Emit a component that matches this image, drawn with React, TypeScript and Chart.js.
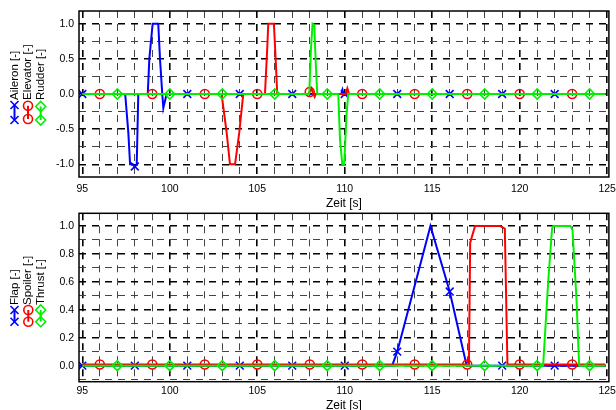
import React, { useEffect, useRef } from "react";
import { Chart, registerables } from "chart.js";
Chart.register(...registerables);

const FONT = "'Liberation Sans', Arial, Helvetica, sans-serif";

// ---------- Top panel data ----------
const aileronT = [95, 97.45, 97.63, 97.73, 97.88, 98, 98.11, 98.15, 98.2, 98.74, 98.83, 99.02, 99.34, 99.44, 99.57, 99.63, 99.82, 101, 104, 107, 109.8, 109.87, 109.93, 110, 113, 116, 119, 122, 124.9];
const aileronV = [0, 0, -0.55, -1.0, -1.0, -1.03, -1.0, -0.55, 0, 0, 0.5, 1.0, 1.0, 0.5, 0, -0.2, 0, 0, 0, 0, 0, 0.06, 0, 0, 0, 0, 0, 0, 0];
const aileronMarks = [95, 98, 101, 104, 107, 110, 113, 116, 119, 122];

const elevatorT = [95, 96, 99, 102, 102.96, 103.25, 103.44, 103.73, 103.97, 104.2, 105, 105.44, 105.57, 105.63, 105.95, 106.07, 106.14, 107.9, 108, 108.1, 108.2, 108.28, 108.35, 110.05, 110.15, 110.25, 111, 114, 117, 120, 123, 124.9];
const elevatorV = [0, 0, 0, 0, 0, -0.55, -1.0, -1.0, -0.55, 0, 0, 0, 0.65, 1.0, 1.0, 0.4, 0, 0, 0.03, 0.08, 0, -0.04, 0, 0, 0.08, 0, 0, 0, 0, 0, 0, 0];
const elevatorMarks = [96, 99, 102, 105, 108, 111, 114, 117, 120, 123];

const rudderT = [95, 97, 100, 103, 106, 107.97, 108.07, 108.16, 108.26, 108.35, 108.43, 109, 109.63, 109.73, 109.86, 109.97, 110.1, 110.2, 112, 115, 118, 121, 124, 124.9];
const rudderV = [0, 0, 0, 0, 0, 0, 0.65, 1.0, 0.98, 0.4, 0, 0, 0, -0.65, -1.0, -1.0, -0.3, 0, 0, 0, 0, 0, 0, 0];
const rudderMarks = [97, 100, 103, 106, 109, 112, 115, 118, 121, 124];

// ---------- Bottom panel data ----------
const flapT = [95, 98, 101, 104, 107, 110, 112.71, 113, 114.9, 116, 116.97, 119, 122, 124.9];
const flapV = [0, 0, 0, 0, 0, 0, 0, 0.1, 1.0, 0.53, 0, 0, 0, 0];
const flapMarks = [95, 98, 101, 104, 107, 110, 113, 116, 119, 122];

const spoilerT = [95, 96, 99, 102, 105, 108, 111, 114, 117, 117.1, 117.17, 117.45, 118.87, 119.15, 119.3, 120, 123, 124.9];
const spoilerV = [0.008, 0.008, 0.008, 0.008, 0.008, 0.008, 0.008, 0.008, 0.008, 0.008, 0.88, 1.0, 1.0, 0.98, 0.008, 0.008, 0.008, 0.008];
const spoilerMarks = [96, 99, 102, 105, 108, 111, 114, 117, 120, 123];

const thrustT = [95, 97, 100, 103, 106, 109, 112, 115, 118, 121, 121.34, 121.63, 121.85, 121.92, 122.9, 123.02, 123.25, 123.4, 124, 124.9];
const thrustV = [0, 0, 0, 0, 0, 0, 0, 0, 0, 0, 0, 0.6, 0.98, 1.0, 1.0, 0.97, 0.47, 0, 0, 0];
const thrustMarks = [97, 100, 103, 106, 109, 112, 115, 118, 121, 124];

// ---------- Ticks ----------
const xTicks = [95, 96, 97, 98, 99, 100, 101, 102, 103, 104, 105, 106, 107, 108, 109, 110, 111, 112, 113, 114, 115, 116, 117, 118, 119, 120, 121, 122, 123, 124, 125];
const xLabels = [95, 100, 105, 110, 115, 120, 125];
const topYTicks = [-1, -0.75, -0.5, -0.25, 0, 0.25, 0.5, 0.75, 1];
const topYLabels = [-1, -0.5, 0, 0.5, 1];
const botYTicks = [-0.1, 0, 0.1, 0.2, 0.3, 0.4, 0.5, 0.6, 0.7, 0.8, 0.9, 1.0];
const botYLabels = [0, 0.2, 0.4, 0.6, 0.8, 1.0];

const topLegend = ["Aileron [-]", "Elevator [-]", "Rudder [-]"];
const botLegend = ["Flap [-]", "Spoiler [-]", "Thrust [-]"];

const BLUE = "#0000ff";
const RED = "#ff0000";
const GREEN = "#00f000";

const has = (arr: number[], v: number) => arr.some((a) => Math.abs(a - v) < 1e-6);

function series(label: string, T: number[], V: number[], marks: number[], color: string, style: string, r: number, order: number) {
  return {
    label,
    data: T.map((t, i) => ({ x: t, y: V[i] })),
    borderColor: color,
    borderWidth: 2,
    tension: 0,
    fill: false,
    pointStyle: style,
    pointRadius: (c: any) => (c.raw && has(marks, c.raw.x) ? r : 0),
    pointHoverRadius: 0,
    pointBorderColor: color,
    pointBackgroundColor: "rgba(0,0,0,0)",
    pointBorderWidth: 1.6,
    order,
  };
}

function drawMarker(ctx: CanvasRenderingContext2D, kind: string, x: number, y: number) {
  ctx.beginPath();
  if (kind === "x") {
    const h = 4;
    ctx.moveTo(x - h, y - h); ctx.lineTo(x + h, y + h);
    ctx.moveTo(x + h, y - h); ctx.lineTo(x - h, y + h);
  } else if (kind === "o") {
    ctx.arc(x, y, 4.5, 0, Math.PI * 2);
  } else {
    const r = 5;
    ctx.moveTo(x, y - r); ctx.lineTo(x + r, y); ctx.lineTo(x, y + r); ctx.lineTo(x - r, y); ctx.closePath();
  }
  ctx.stroke();
}

function framePlugin(entries: { label: string; color: string; kind: string; x: number; y1: number; y2: number; ty: number }[]) {
  return {
    id: "frameLegend",
    afterDraw(chart: any) {
      const { ctx, chartArea: a } = chart;
      ctx.save();
      ctx.strokeStyle = "#000";
      ctx.lineWidth = 1.5;
      ctx.setLineDash([]);
      ctx.strokeRect(a.left, a.top, a.right - a.left, a.bottom - a.top);
      for (const e of entries) {
        ctx.strokeStyle = e.color;
        ctx.lineWidth = 2;
        ctx.beginPath();
        ctx.moveTo(e.x, e.y1);
        ctx.lineTo(e.x, e.y2);
        ctx.stroke();
        ctx.lineWidth = 1.6;
        drawMarker(ctx, e.kind, e.x, e.y1);
        drawMarker(ctx, e.kind, e.x, e.y2);
        ctx.save();
        ctx.translate(e.x, e.ty);
        ctx.rotate(-Math.PI / 2);
        ctx.fillStyle = "#000";
        ctx.font = `11.5px ${FONT}`;
        ctx.textAlign = "left";
        ctx.textBaseline = "middle";
        ctx.fillText(e.label, 0, 0);
        ctx.restore();
      }
      ctx.restore();
    },
  };
}

function makeConfig(opts: any) {
  const { datasets, yMin, yMax, yTicks, yLabels, yMajor, padTop, xAxisH, xPad, titlePad, legend } = opts;
  const isMajorX = (v: number) => Math.abs(v / 5 - Math.round(v / 5)) < 1e-6;
  const isMajorY = (v: number) => Math.abs(v / yMajor - Math.round(v / yMajor)) < 1e-6;
  return {
    type: "line",
    data: { datasets },
    plugins: [framePlugin(legend)],
    options: {
      responsive: false,
      animation: false,
      events: [],
      layout: { padding: { left: 0, right: 7, top: padTop, bottom: 0 } },
      plugins: { legend: { display: false }, tooltip: { enabled: false } },
      scales: {
        x: {
          type: "linear",
          min: 94.81,
          max: 125.1,
          bounds: "data",
          afterBuildTicks: (s: any) => { s.ticks = xTicks.map((v) => ({ value: v })); },
          afterFit: (s: any) => { s.height = xAxisH; s.paddingLeft = 0; s.paddingRight = 0; },
          ticks: {
            autoSkip: false, maxRotation: 0, minRotation: 0, padding: xPad, color: "#000",
            font: { family: FONT, size: 10.5 },
            callback: (v: any) => (has(xLabels, Number(v)) ? String(Math.round(Number(v))) : ""),
          },
          grid: {
            drawTicks: false,
            color: (c: any) => (c.tick && isMajorX(c.tick.value) ? "#000" : "#444"),
            lineWidth: (c: any) => (c.tick && isMajorX(c.tick.value) ? 1.6 : 1),
          },
          border: { display: false, dash: [7, 6] },
          title: { display: true, text: "Zeit [s]", color: "#000", font: { family: FONT, size: 12 }, padding: { top: 0, bottom: titlePad } },
        },
        y: {
          type: "linear",
          min: yMin,
          max: yMax,
          bounds: "data",
          afterBuildTicks: (s: any) => { s.ticks = yTicks.map((v: number) => ({ value: v })); },
          afterFit: (s: any) => { s.width = 79; s.paddingTop = 0; s.paddingBottom = 0; },
          ticks: {
            autoSkip: false, padding: 5, color: "#000",
            font: { family: FONT, size: 10.5 },
            callback: (v: any) => (has(yLabels, Number(v)) ? Number(v).toFixed(1) : ""),
          },
          grid: {
            drawTicks: false,
            color: (c: any) => (c.tick && isMajorY(c.tick.value) ? "#000" : "#444"),
            lineWidth: (c: any) => (c.tick && isMajorY(c.tick.value) ? 1.6 : 1),
          },
          border: { display: false, dash: [7, 6] },
        },
      },
    },
  };
}

export default function App() {
  const topRef = useRef<HTMLCanvasElement | null>(null);
  const botRef = useRef<HTMLCanvasElement | null>(null);

  useEffect(() => {
    const topCfg = makeConfig({
      datasets: [
        series(topLegend[0], aileronT, aileronV, aileronMarks, BLUE, "crossRot", 5.5, 2),
        series(topLegend[1], elevatorT, elevatorV, elevatorMarks, RED, "circle", 4.5, 1),
        series(topLegend[2], rudderT, rudderV, rudderMarks, GREEN, "rectRot", 5, 0),
      ],
      yMin: -1.18, yMax: 1.18, yTicks: topYTicks, yLabels: topYLabels, yMajor: 0.5,
      padTop: 11, xAxisH: 214 - 177, xPad: 6, titlePad: 3.6,
      legend: [
        { label: topLegend[0], color: BLUE, kind: "x", x: 14.5, y1: 105, y2: 120, ty: 100 },
        { label: topLegend[1], color: RED, kind: "o", x: 28, y1: 105.7, y2: 119, ty: 100 },
        { label: topLegend[2], color: GREEN, kind: "d", x: 40.7, y1: 106.5, y2: 120, ty: 100 },
      ],
    });
    const botCfg = makeConfig({
      datasets: [
        series(botLegend[0], flapT, flapV, flapMarks, BLUE, "crossRot", 5.5, 2),
        series(botLegend[1], spoilerT, spoilerV, spoilerMarks, RED, "circle", 4.5, 1),
        series(botLegend[2], thrustT, thrustV, thrustMarks, GREEN, "rectRot", 5, 0),
      ],
      yMin: -0.115, yMax: 1.09, yTicks: botYTicks, yLabels: botYLabels, yMajor: 0.2,
      padTop: 13.3, xAxisH: 216 - 181.7, xPad: 3.5, titlePad: 3.1,
      legend: [
        { label: botLegend[0], color: BLUE, kind: "x", x: 14.5, y1: 110, y2: 121.7, ty: 105 },
        { label: botLegend[1], color: RED, kind: "o", x: 28.3, y1: 110, y2: 121.7, ty: 105 },
        { label: botLegend[2], color: GREEN, kind: "d", x: 40.7, y1: 110, y2: 121.7, ty: 105 },
      ],
    });
    const c1 = new Chart(topRef.current as HTMLCanvasElement, topCfg as any);
    const c2 = new Chart(botRef.current as HTMLCanvasElement, botCfg as any);
    return () => { c1.destroy(); c2.destroy(); };
  }, []);

  return (
    <div style={{ position: "absolute", left: 0, top: 0, width: 616, height: 410, overflow: "hidden", background: "#fff" }}>
      <canvas ref={botRef} width={616} height={216} style={{ position: "absolute", left: 0, top: 200, width: 616, height: 216, display: "block" }} />
      <canvas ref={topRef} width={616} height={214} style={{ position: "absolute", left: 0, top: 0, width: 616, height: 214, display: "block" }} />
    </div>
  );
}
